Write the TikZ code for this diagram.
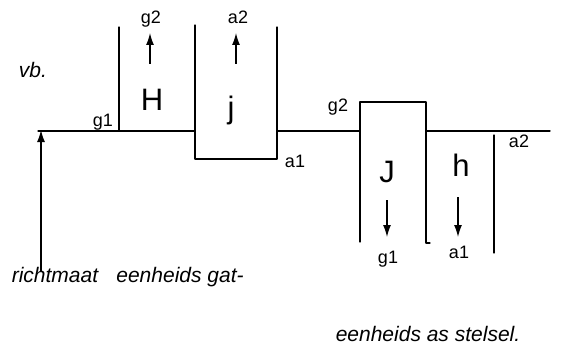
\documentclass[tikz,border=0pt]{standalone}
\usepackage{fontspec}
\setmainfont{Liberation Sans}
\usetikzlibrary{arrows.meta}
\tikzset{
  wall/.style={line width=1.3pt, line cap=round, line join=round},
  flow/.style={line width=1.3pt, -{Latex[length=12pt,width=8pt]}},
  big/.style={font=\fontsize{31}{33}\selectfont, inner sep=0pt},
  lbl/.style={font=\fontsize{18}{20}\selectfont, inner sep=0pt},
  note/.style={font=\itshape\fontsize{21}{23}\selectfont, inner sep=0pt}
}
\begin{document}
\begin{tikzpicture}[x=1pt,y=-1pt]
\useasboundingbox (0,0) rectangle (577,350);
% points
\coordinate (L0) at (38,131);
\coordinate (Hb) at (119,131); \coordinate (Ht) at (119,27);
\coordinate (jtl) at (195,25); \coordinate (jl) at (195,131); \coordinate (jbl) at (195,159);
\coordinate (jbr) at (277,159); \coordinate (jr) at (277,131); \coordinate (jtr) at (277,27);
\coordinate (Jl) at (360,131); \coordinate (Jtl) at (360,102); \coordinate (Jbl) at (360,242);
\coordinate (Jtr) at (426,102); \coordinate (Jr) at (426,131); \coordinate (Jbr) at (426,243);
\coordinate (Jft) at (430,243);
\coordinate (R) at (550,131);
\coordinate (ht) at (494,135); \coordinate (hb) at (494,253);
\coordinate (rs) at (41,272); \coordinate (re) at (41,130);
\coordinate (g2s) at (150,64); \coordinate (g2e) at (150,33);
\coordinate (a2s) at (236,64); \coordinate (a2e) at (236,33);
\coordinate (Js) at (387,200); \coordinate (Je) at (387,237);
\coordinate (hs) at (458,197); \coordinate (he) at (458,237);
% walls
\draw[wall] (L0) -- (jl);
\draw[wall] (Ht) -- (Hb);
\draw[wall] (jtl) -- (jbl) -- (jbr) -- (jtr);
\draw[wall] (jr) -- (Jl);
\draw[wall] (Jbl) -- (Jtl) -- (Jtr) -- (Jbr) -- (Jft);
\draw[wall] (Jr) -- (R);
\draw[wall] (ht) -- (hb);
% arrows
\draw[flow] (rs) -- (re);
\draw[flow] (g2s) -- (g2e);
\draw[flow] (a2s) -- (a2e);
\draw[flow] (Js) -- (Je);
\draw[flow] (hs) -- (he);
% labels
\node[note] (vb) at (33,70) {vb.};
\node[lbl] (tg2) at (151,19) {g2};
\node[lbl] (ta2) at (238,17) {a2};
\node[big] (tH) at (152,100) {H};
\node[big] (tj) at (231,110) {j};
\node[lbl] (tg1) at (103,122) {g1};
\node[lbl] (ta1) at (295,161) {a1};
\node[lbl] (tg2b) at (338,107) {g2};
\node[big] (tJ) at (387,172) {J};
\node[big] (th) at (461,165) {h};
\node[lbl] (tg1b) at (388,259) {g1};
\node[lbl] (ta1b) at (459,252) {a1};
\node[lbl] (ta2b) at (519,141) {a2};
\node[note] (rm) at (55,275) {richtmaat};
\node[note] (eg) at (180,277) {eenheids gat-};
\node[note] (es) at (428,334) {eenheids as stelsel.};
\end{tikzpicture}
\end{document}
